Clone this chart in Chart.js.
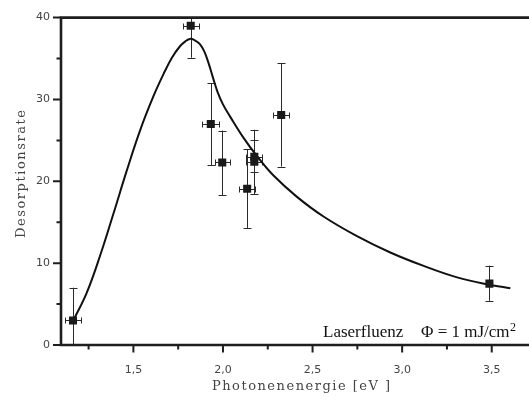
<!DOCTYPE html>
<html>
<head>
<meta charset="utf-8">
<script src="https://cdn.jsdelivr.net/npm/chart.js@4/dist/chart.umd.min.js"></script>
<style>
  html, body { margin: 0; padding: 0; background: #fff; }
  #wrap { width: 529px; height: 399px; }
</style>
</head>
<body>
<div id="wrap"><canvas id="c" width="529" height="399"></canvas></div>
<script>
// Measured desorption rate against photon energy, with error ranges
const energy    = [1.163, 1.820, 1.932, 1.996, 2.135, 2.175, 2.175, 2.325, 3.487];
const rate      = [3.0, 39.0, 27.0, 22.3, 19.1, 22.4, 23.0, 28.1, 7.5];
const rateLow   = [-1.0, 35.1, 22.0, 18.3, 14.3, 18.4, 21.1, 21.8, 5.4];
const rateHigh  = [7.0, 43.0, 32.0, 26.2, 23.9, 26.3, 25.0, 34.4, 9.7];
const energyErr = [0.045, 0.045, 0.047, 0.042, 0.045, 0.045, 0.045, 0.045, 0.0];

// Model curve
const curveX = [1.165, 1.240, 1.314, 1.388, 1.463, 1.537, 1.612, 1.668, 1.715, 1.760,
                1.790, 1.816, 1.845, 1.870, 1.895, 1.920, 1.945, 1.970, 2.000, 2.040,
                2.115, 2.189, 2.282, 2.413, 2.561, 2.748, 2.934, 3.120, 3.307, 3.493,
                3.604];
const curveY = [3.0, 6.4, 10.9, 16.0, 21.3, 26.2, 30.4, 33.1, 35.1, 36.5,
                37.1, 37.4, 37.2, 36.8, 35.9, 34.4, 32.6, 30.9, 29.4, 27.9,
                25.3, 23.1, 20.7, 18.1, 15.7, 13.3, 11.3, 9.66, 8.26, 7.34,
                6.93];

// Axis ticks
const xTicks = [1.5, 2.0, 2.5, 3.0, 3.5];
const xMinorTicks = [1.25, 1.75, 2.25, 2.75, 3.25];
const yTicks = [0, 10, 20, 30, 40];
const yMinorTicks = [5, 15, 25, 35];

const xTitle = 'Photonenenergie [eV ]';
const yTitle = 'Desorptionsrate';
const noteMain = 'Laserfluenz';
const notePhi = 'Φ = 1 mJ/cm';
const noteSup = '2';

const ink = '#1e1e1e';

function drawSpaced(ctx, text, cx, cy, targetWidth) {
  ctx.letterSpacing = '0px';
  const w = ctx.measureText(text).width;
  const sp = Math.max(0, (targetWidth - w) / Math.max(1, text.length - 1));
  ctx.letterSpacing = sp.toFixed(2) + 'px';
  ctx.textAlign = 'left';
  ctx.textBaseline = 'middle';
  ctx.fillText(text, cx - targetWidth / 2, cy);
  ctx.letterSpacing = '0px';
}

const errorBars = {
  id: 'errorBars',
  beforeDatasetsDraw(chart) {
    const { ctx, chartArea: a, scales: { x, y } } = chart;
    ctx.save();
    ctx.beginPath();
    ctx.rect(a.left, a.top, a.right - a.left, a.bottom - a.top);
    ctx.clip();
    ctx.strokeStyle = '#2a2a2a';
    ctx.lineWidth = 1;
    for (let i = 0; i < energy.length; i++) {
      const px = Math.round(x.getPixelForValue(energy[i])) + 0.5;
      const py = y.getPixelForValue(rate[i]);
      const yLo = y.getPixelForValue(rateLow[i]);
      const yHi = y.getPixelForValue(rateHigh[i]);
      ctx.beginPath();
      ctx.moveTo(px, yLo); ctx.lineTo(px, yHi);
      ctx.moveTo(px - 4, Math.round(yLo) + 0.5); ctx.lineTo(px + 4, Math.round(yLo) + 0.5);
      ctx.moveTo(px - 4, Math.round(yHi) + 0.5); ctx.lineTo(px + 4, Math.round(yHi) + 0.5);
      if (energyErr[i] > 0) {
        const xl = Math.round(x.getPixelForValue(energy[i] - energyErr[i])) + 0.5;
        const xr = Math.round(x.getPixelForValue(energy[i] + energyErr[i])) + 0.5;
        const yy = Math.round(py) + 0.5;
        ctx.moveTo(xl, yy); ctx.lineTo(xr, yy);
        ctx.moveTo(xl, yy - 3); ctx.lineTo(xl, yy + 3);
        ctx.moveTo(xr, yy - 3); ctx.lineTo(xr, yy + 3);
      }
      ctx.stroke();
    }
    ctx.restore();
  }
};

const frame = {
  id: 'frame',
  afterDraw(chart) {
    const { ctx, chartArea: a, scales: { x, y } } = chart;
    ctx.save();
    ctx.strokeStyle = ink;
    ctx.lineCap = 'butt';
    // frame lines: left, bottom, top
    ctx.lineWidth = 2.6;
    ctx.beginPath();
    ctx.moveTo(a.left, a.top - 1.3); ctx.lineTo(a.left, a.bottom + 1.3);
    ctx.moveTo(a.left - 1.3, a.bottom); ctx.lineTo(a.right, a.bottom);
    ctx.moveTo(a.left - 1.3, a.top); ctx.lineTo(a.right, a.top);
    ctx.stroke();
    // y ticks (outside, left)
    ctx.lineWidth = 2;
    ctx.beginPath();
    yTicks.forEach(v => { const p = y.getPixelForValue(v); ctx.moveTo(a.left - 8, p); ctx.lineTo(a.left, p); });
    yMinorTicks.forEach(v => { const p = y.getPixelForValue(v); ctx.moveTo(a.left - 4.5, p); ctx.lineTo(a.left, p); });
    // x ticks (outside, below)
    xTicks.forEach(v => { const p = x.getPixelForValue(v); ctx.moveTo(p, a.bottom); ctx.lineTo(p, a.bottom + 7.5); });
    xMinorTicks.forEach(v => { const p = x.getPixelForValue(v); ctx.moveTo(p, a.bottom); ctx.lineTo(p, a.bottom + 4.5); });
    ctx.stroke();

    // axis titles
    ctx.fillStyle = '#444';
    ctx.font = '13px "DejaVu Serif"';
    drawSpaced(ctx, xTitle, 301, 387, 178);
    ctx.save();
    ctx.translate(22, 174);
    ctx.rotate(-Math.PI / 2);
    drawSpaced(ctx, yTitle, 0, 0, 128);
    ctx.restore();

    // fluence note
    ctx.fillStyle = '#111';
    ctx.textAlign = 'left';
    ctx.textBaseline = 'alphabetic';
    ctx.font = '17px "Liberation Serif"';
    ctx.fillText(noteMain, 323, 336.5);
    ctx.fillText(notePhi, 421, 336.5);
    const wPhi = ctx.measureText(notePhi).width;
    ctx.font = '12px "Liberation Serif"';
    ctx.fillText(noteSup, 421 + wPhi + 0.5, 331);
    ctx.restore();
  }
};

const chart = new Chart(document.getElementById('c'), {
  type: 'scatter',
  data: {
    datasets: [
      {
        label: 'Messwerte',
        data: energy.map((e, i) => ({ x: e, y: rate[i] })),
        pointStyle: 'rect',
        pointRadius: 5.7,
        pointBackgroundColor: '#1a1a1a',
        pointBorderWidth: 0,
        showLine: false
      },
      {
        label: 'Modell',
        type: 'line',
        data: curveX.map((e, i) => ({ x: e, y: curveY[i] })),
        borderColor: '#111',
        borderWidth: 2,
        pointRadius: 0,
        fill: false,
        tension: 0.4
      }
    ]
  },
  options: {
    responsive: false,
    animation: false,
    devicePixelRatio: 1,
    layout: { autoPadding: false, padding: { top: 13, left: 0, right: 0, bottom: 0 } },
    plugins: { legend: { display: false }, tooltip: { enabled: false } },
    scales: {
      x: {
        type: 'linear',
        min: 1.096,
        max: 3.708,
        grid: { display: false, drawTicks: false },
        border: { display: false },
        afterBuildTicks: s => { s.ticks = xTicks.map(v => ({ value: v })); },
        afterFit: s => { s.height = 54; },
        ticks: {
          padding: 19,
          color: '#444',
          font: { family: 'DejaVu Sans', size: 11 },
          maxRotation: 0,
          callback: v => v.toFixed(1).replace('.', ',')
        }
      },
      y: {
        min: 0,
        max: 40,
        grid: { display: false, drawTicks: false },
        border: { display: false },
        afterBuildTicks: s => { s.ticks = yTicks.map(v => ({ value: v })); },
        afterFit: s => { s.width = 61; },
        ticks: {
          padding: 11,
          color: '#444',
          font: { family: 'DejaVu Sans', size: 11 },
          callback: v => String(v)
        }
      }
    }
  },
  plugins: [errorBars, frame]
});
</script>
</body>
</html>
